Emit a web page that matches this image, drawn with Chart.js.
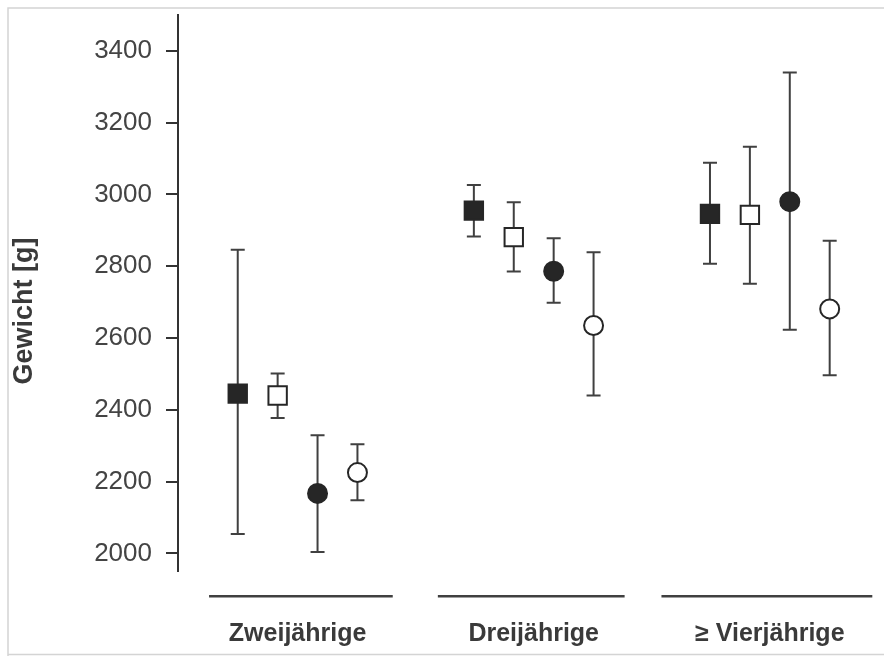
<!DOCTYPE html>
<html><head><meta charset="utf-8">
<script src="https://cdn.jsdelivr.net/npm/chart.js@4/dist/chart.umd.min.js"></script>
<style>html,body{margin:0;padding:0;background:#fff;}</style>
</head><body>
<canvas id="c" width="884" height="656"></canvas>
<script>
// ---- data ----
const categories = ['Zweijährige', 'Dreijährige', '≥ Vierjährige'];
const yTickValues = [2000, 2200, 2400, 2600, 2800, 3000, 3200, 3400];
const yTitle = 'Gewicht [g]';

const filledSquareMean = [2445, 2955, 2946];
const filledSquareLow  = [2054, 2883, 2807];
const filledSquareHigh = [2846, 3026, 3088];

const openSquareMean = [2440, 2881, 2943];
const openSquareLow  = [2377, 2785, 2751];
const openSquareHigh = [2501, 2978, 3133];

const filledCircleMean = [2167, 2786, 2980];
const filledCircleLow  = [2004, 2698, 2623];
const filledCircleHigh = [2329, 2878, 3340];

const openCircleMean = [2225, 2635, 2681];
const openCircleLow  = [2148, 2440, 2496];
const openCircleHigh = [2304, 2839, 2871];

// ---- style ----
const FONT = '"Liberation Sans", Arial, sans-serif';
const INK = '#3a3a3a';
const seriesSpacing = 0.169;             // x-units between series in a group
const groupLineSpans = [[-0.375, 0.403], [-0.406, 0.385], [-0.459, 0.434]];

const seriesDefs = [
  {label: '■', mean: filledSquareMean, low: filledSquareLow, high: filledSquareHigh, style: 'rect', fill: '#262626', radius: 13},
  {label: '□', mean: openSquareMean, low: openSquareLow, high: openSquareHigh, style: 'rect', fill: '#ffffff', radius: 13},
  {label: '●', mean: filledCircleMean, low: filledCircleLow, high: filledCircleHigh, style: 'circle', fill: '#262626', radius: 9.5},
  {label: '○', mean: openCircleMean, low: openCircleLow, high: openCircleHigh, style: 'circle', fill: '#ffffff', radius: 9.5}
];

const datasets = seriesDefs.map((s, k) => ({
  label: s.label,
  data: s.mean.map((v, i) => ({x: i + (k - 1.5) * seriesSpacing, y: v, low: s.low[i], high: s.high[i]})),
  pointStyle: s.style,
  pointRadius: s.radius,
  pointHoverRadius: s.radius,
  pointBackgroundColor: s.fill,
  pointBorderColor: '#262626',
  pointBorderWidth: 2,
  showLine: false
}));

const decor = {
  id: 'decor',
  beforeDraw(chart) {
    const ctx = chart.ctx;
    ctx.save();
    ctx.strokeStyle = '#d4d4d4';
    ctx.lineWidth = 1.5;
    ctx.beginPath();
    ctx.moveTo(8, 656); ctx.lineTo(8, 8); ctx.lineTo(884, 8);
    ctx.moveTo(8, 654.5); ctx.lineTo(884, 654.5);
    ctx.stroke();
    ctx.restore();
  },
  beforeDatasetsDraw(chart) {
    const ctx = chart.ctx, xs = chart.scales.x, ys = chart.scales.y;
    ctx.save();
    ctx.strokeStyle = '#404040';
    ctx.lineWidth = 2;
    chart.data.datasets.forEach(ds => {
      ds.data.forEach(p => {
        const px = xs.getPixelForValue(p.x);
        const yl = ys.getPixelForValue(p.low), yh = ys.getPixelForValue(p.high);
        ctx.beginPath();
        ctx.moveTo(px, yl); ctx.lineTo(px, yh);
        ctx.moveTo(px - 7, yl); ctx.lineTo(px + 7, yl);
        ctx.moveTo(px - 7, yh); ctx.lineTo(px + 7, yh);
        ctx.stroke();
      });
    });
    ctx.restore();
  },
  afterDraw(chart) {
    const ctx = chart.ctx, xs = chart.scales.x, area = chart.chartArea;
    ctx.save();
    ctx.strokeStyle = '#404040';
    ctx.lineWidth = 2.5;
    const ly = area.bottom + 25;
    categories.forEach((c, i) => {
      const [a, b] = groupLineSpans[i];
      ctx.beginPath();
      ctx.moveTo(xs.getPixelForValue(i + a), ly);
      ctx.lineTo(xs.getPixelForValue(i + b), ly);
      ctx.stroke();
    });
    ctx.translate(25, 311);
    ctx.rotate(-Math.PI / 2);
    ctx.fillStyle = INK;
    ctx.font = 'bold 27px ' + FONT;
    ctx.textAlign = 'center';
    ctx.textBaseline = 'middle';
    ctx.fillText(yTitle, 0, 0);
    ctx.restore();
  }
};

new Chart(document.getElementById('c'), {
  type: 'scatter',
  data: {datasets},
  plugins: [decor],
  options: {
    responsive: false,
    animation: false,
    events: [],
    layout: {padding: {top: 14, bottom: 9.7, left: 0, right: 6}},
    plugins: {legend: {display: false}, tooltip: {enabled: false}},
    scales: {
      x: {
        type: 'linear',
        min: -0.5065,
        max: 2.42,
        afterBuildTicks: s => { s.ticks = categories.map((c, i) => ({value: i})); },
        afterFit: s => { s.height = 75; s.paddingLeft = 0; s.paddingRight = 0; },
        border: {display: false},
        grid: {display: false, drawTicks: false},
        ticks: {
          callback: (v, i) => categories[i],
          font: {size: 25, weight: 'bold', family: FONT},
          color: INK,
          padding: 48,
          maxRotation: 0,
          autoSkip: false
        }
      },
      y: {
        min: 1950,
        max: 3500,
        afterBuildTicks: s => { s.ticks = yTickValues.map(v => ({value: v})); },
        afterFit: s => { s.width = 178; s.paddingTop = 0; s.paddingBottom = 0; },
        border: {display: true, color: '#333', width: 2},
        grid: {drawOnChartArea: false, drawTicks: true, tickLength: 12, color: '#333', lineWidth: 2},
        ticks: {callback: v => String(v), font: {size: 26, family: FONT}, color: '#444', padding: 14}
      }
    }
  }
});
</script>
</body></html>
